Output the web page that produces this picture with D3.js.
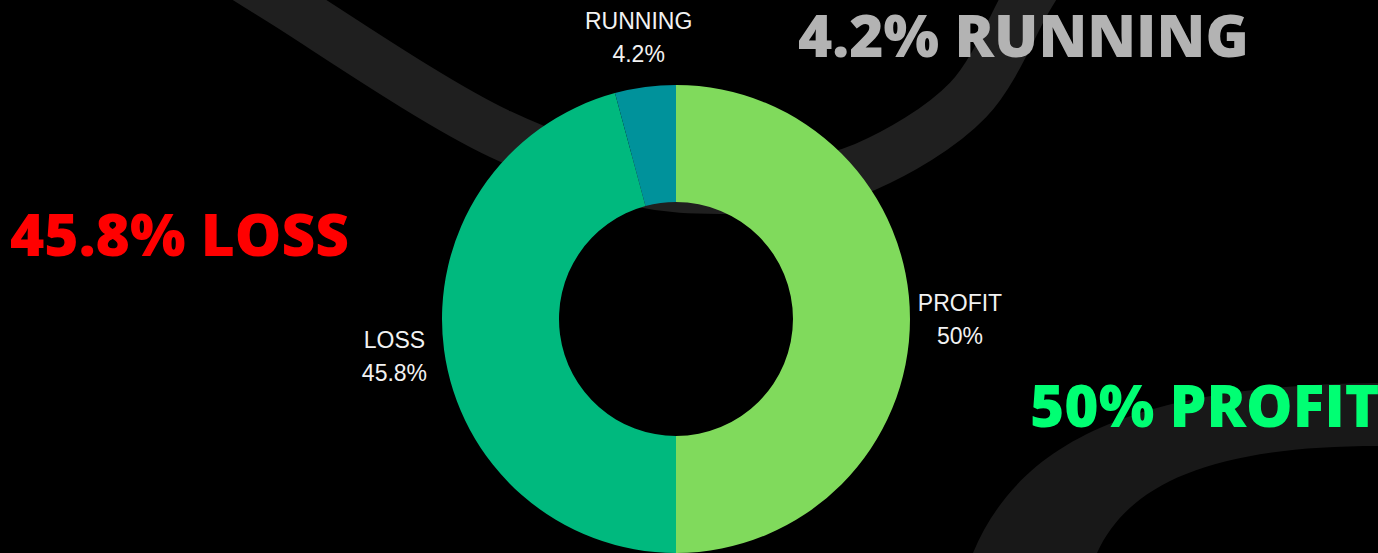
<!DOCTYPE html>
<html>
<head>
<meta charset="utf-8">
<script src="https://cdn.jsdelivr.net/npm/d3@7"></script>
<style>
  html, body { margin: 0; padding: 0; background: #000; overflow: hidden; }
  svg { display: block; }
</style>
</head>
<body>
<svg id="chart" width="1378" height="553"></svg>
<script>
// ---- data ----
const categories = ["PROFIT", "LOSS", "RUNNING"];
const values = [50, 45.8, 4.2];
const valueLabels = ["50%", "45.8%", "4.2%"];
const sliceColors = ["#80DA5C", "#00B97E", "#00929B"];
const headlineTexts = ["4.2% RUNNING", "45.8% LOSS", "50% PROFIT"];
const headlineColors = ["#B3B3B3", "#FF0000", "#00FF73"];

// decorative background swooshes
const swooshA = [[240,-25],[280,0],[500,134],[640,182],[720,189],[800,183],[865,167],[968,100],[1027,0],[1042,-25]];

const W = 1378, H = 553;
const svg = d3.select("#chart");
svg.append("rect").attr("width", W).attr("height", H).attr("fill", "#000");

const bg = svg.append("g");
const lineGen = d3.line().curve(d3.curveCatmullRom.alpha(0.5));
bg.append("path")
  .attr("d", lineGen(swooshA))
  .attr("fill", "none")
  .attr("stroke", "#1F1F1F")
  .attr("stroke-width", 50);

const pB = d3.path();
pB.moveTo(952, 595);
pB.lineTo(973, 553);
pB.bezierCurveTo(1020, 440, 1140, 385, 1378, 383);
pB.lineTo(1400, 383);
pB.lineTo(1400, 446);
pB.lineTo(1378, 446);
pB.bezierCurveTo(1220, 446, 1130, 480, 1097, 553);
pB.lineTo(1078, 595);
pB.closePath();
bg.append("path").attr("d", pB.toString()).attr("fill", "#181818");

// ---- donut ----
const cx = 676, cy = 319, rOuter = 234, rInner = 117, rLabel = 284;
const pie = d3.pie().sort(null).value(d => d.value);
const data = categories.map((c, i) => ({ cat: c, value: values[i], label: valueLabels[i], color: sliceColors[i] }));
const arcs = pie(data);
const arc = d3.arc().innerRadius(rInner).outerRadius(rOuter);
const labelArc = d3.arc().innerRadius(rLabel).outerRadius(rLabel);

const g = svg.append("g").attr("transform", `translate(${cx},${cy})`);
g.selectAll("path.slice").data(arcs).join("path")
  .attr("class", "slice")
  .attr("d", arc)
  .attr("fill", d => d.data.color);

const lbl = g.selectAll("g.lbl").data(arcs).join("g")
  .attr("class", "lbl")
  .attr("transform", d => `translate(${labelArc.centroid(d)})`);
lbl.append("text")
  .attr("y", -16.5)
  .attr("text-anchor", "middle")
  .attr("dominant-baseline", "central")
  .attr("fill", "#F2F2F2")
  .style("font-family", "'Liberation Sans', Arial, sans-serif")
  .style("font-size", "23px")
  .text(d => d.data.cat);
lbl.append("text")
  .attr("y", 16.5)
  .attr("text-anchor", "middle")
  .attr("dominant-baseline", "central")
  .attr("fill", "#F2F2F2")
  .style("font-family", "'Liberation Sans', Arial, sans-serif")
  .style("font-size", "23px")
  .text(d => d.data.label);

// ---- headlines ----
const headlinePos = [[798, 57], [10, 256], [1030, 427]];
svg.selectAll("text.head").data(headlineTexts).join("text")
  .attr("class", "head")
  .attr("x", (d, i) => headlinePos[i][0])
  .attr("y", (d, i) => headlinePos[i][1])
  .attr("fill", (d, i) => headlineColors[i])
  .style("font-family", "'Open Sans', sans-serif")
  .style("font-weight", 800)
  .style("font-size", "58.6px")
  .text(d => d);
</script>
</body>
</html>
